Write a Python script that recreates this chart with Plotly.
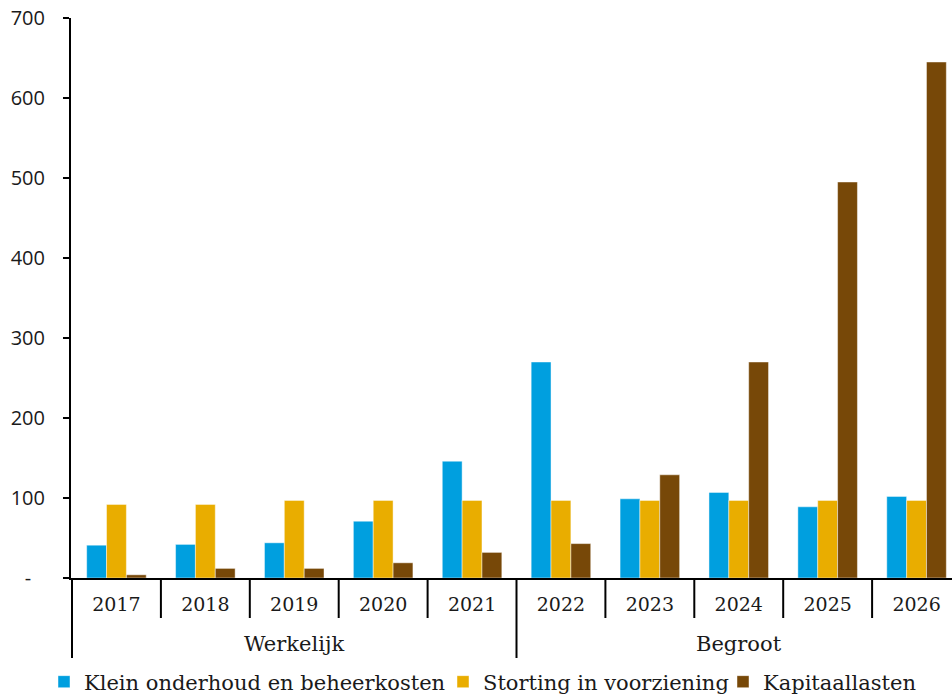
import plotly.graph_objects as go

years = ["2017", "2018", "2019", "2020", "2021", "2022", "2023", "2024", "2025", "2026"]
group_names = ["Werkelijk", "Begroot"]
group_sizes = [5, 5]
klein = [41, 42, 44, 71, 146, 270, 99, 107, 89, 102]
storting = [92, 92, 97, 97, 97, 97, 97, 97, 97, 97]
kapitaal = [4, 12, 12, 19, 32, 43, 129, 270, 495, 645]
series_names = ["Klein onderhoud en beheerkosten", "Storting in voorziening", "Kapitaallasten"]
colors = ["#009FDF", "#E9AD00", "#774808"]
ytickvals = [0, 100, 200, 300, 400, 500, 600, 700]
yticktext = ["-\u00a0\u00a0\u2009", "100", "200", "300", "400", "500", "600", "700"]

# the plot area runs slightly past the right edge of the 952px window, as in the reference
W, H = 961, 694
ML, MR, MT, MB = 71, 0, 18, 116
PLOT_W = W - ML - MR
PLOT_H = H - MT - MB
TXT = "#1a1a1a"
SERIF = "DejaVu Serif"

# left edge (px) of each legend block
legend_left_px = [44, 443, 723]
legend_ids = ["legend", "legend2", "legend3"]

fig = go.Figure()
for name, vals, col, lid in zip(series_names, [klein, storting, kapitaal], colors, legend_ids):
    fig.add_trace(go.Bar(
        x=years, y=vals, name=name, legend=lid,
        marker=dict(color=col, line=dict(color="rgba(255,255,255,0.45)", width=1)),
    ))

shapes = []
annotations = []
group_bounds = [-0.5]
for s in group_sizes:
    group_bounds.append(group_bounds[-1] + s)
for i in range(len(years)):
    b = i - 0.5
    depth = 80 if b in group_bounds else 40
    shapes.append(dict(type="line", xref="x", yref="paper", x0=b, x1=b,
                       y0=0, y1=-depth / PLOT_H, line=dict(color="black", width=2)))
for gi, gname in enumerate(group_names):
    center = (group_bounds[gi] + group_bounds[gi + 1]) / 2
    annotations.append(dict(text=gname, xref="x", yref="paper", x=center,
                            y=-66 / PLOT_H, yanchor="middle", showarrow=False,
                            font=dict(family=SERIF, size=21, color=TXT)))

legend_common = dict(orientation="h", xanchor="left", y=-104 / PLOT_H, yanchor="middle",
                     font=dict(family=SERIF, size=21, color=TXT), itemwidth=30,
                     bgcolor="rgba(0,0,0,0)")
layout_legends = {}
for lid, lx in zip(legend_ids, legend_left_px):
    layout_legends[lid] = dict(legend_common, x=(lx - ML) / PLOT_W)

fig.update_layout(
    width=W, height=H,
    margin=dict(l=ML, r=MR, t=MT, b=MB, autoexpand=False),
    barmode="group", bargap=0.33, bargroupgap=0,
    plot_bgcolor="white", paper_bgcolor="white",
    font=dict(family=SERIF, size=19, color=TXT),
    showlegend=True,
    shapes=shapes,
    annotations=annotations,
    **layout_legends,
)
fig.update_xaxes(
    type="category", showline=True, linecolor="black", linewidth=2,
    ticks="", ticklabelstandoff=8, automargin=False,
    tickfont=dict(family=SERIF, size=19, color=TXT),
    showgrid=False,
)
fig.update_yaxes(
    range=[0, 700], tickvals=ytickvals, ticktext=yticktext,
    showline=True, linecolor="black", linewidth=2, automargin=False,
    ticks="outside", ticklen=6, tickwidth=2, tickcolor="black",
    ticklabelstandoff=14,
    showgrid=False, zeroline=False,
    tickfont=dict(family="Open Sans", size=20, color=TXT),
)

fig.write_html("out.html", config={"displayModeBar": False},
               post_script="document.body.style.margin='0';document.body.style.overflow='hidden';")
